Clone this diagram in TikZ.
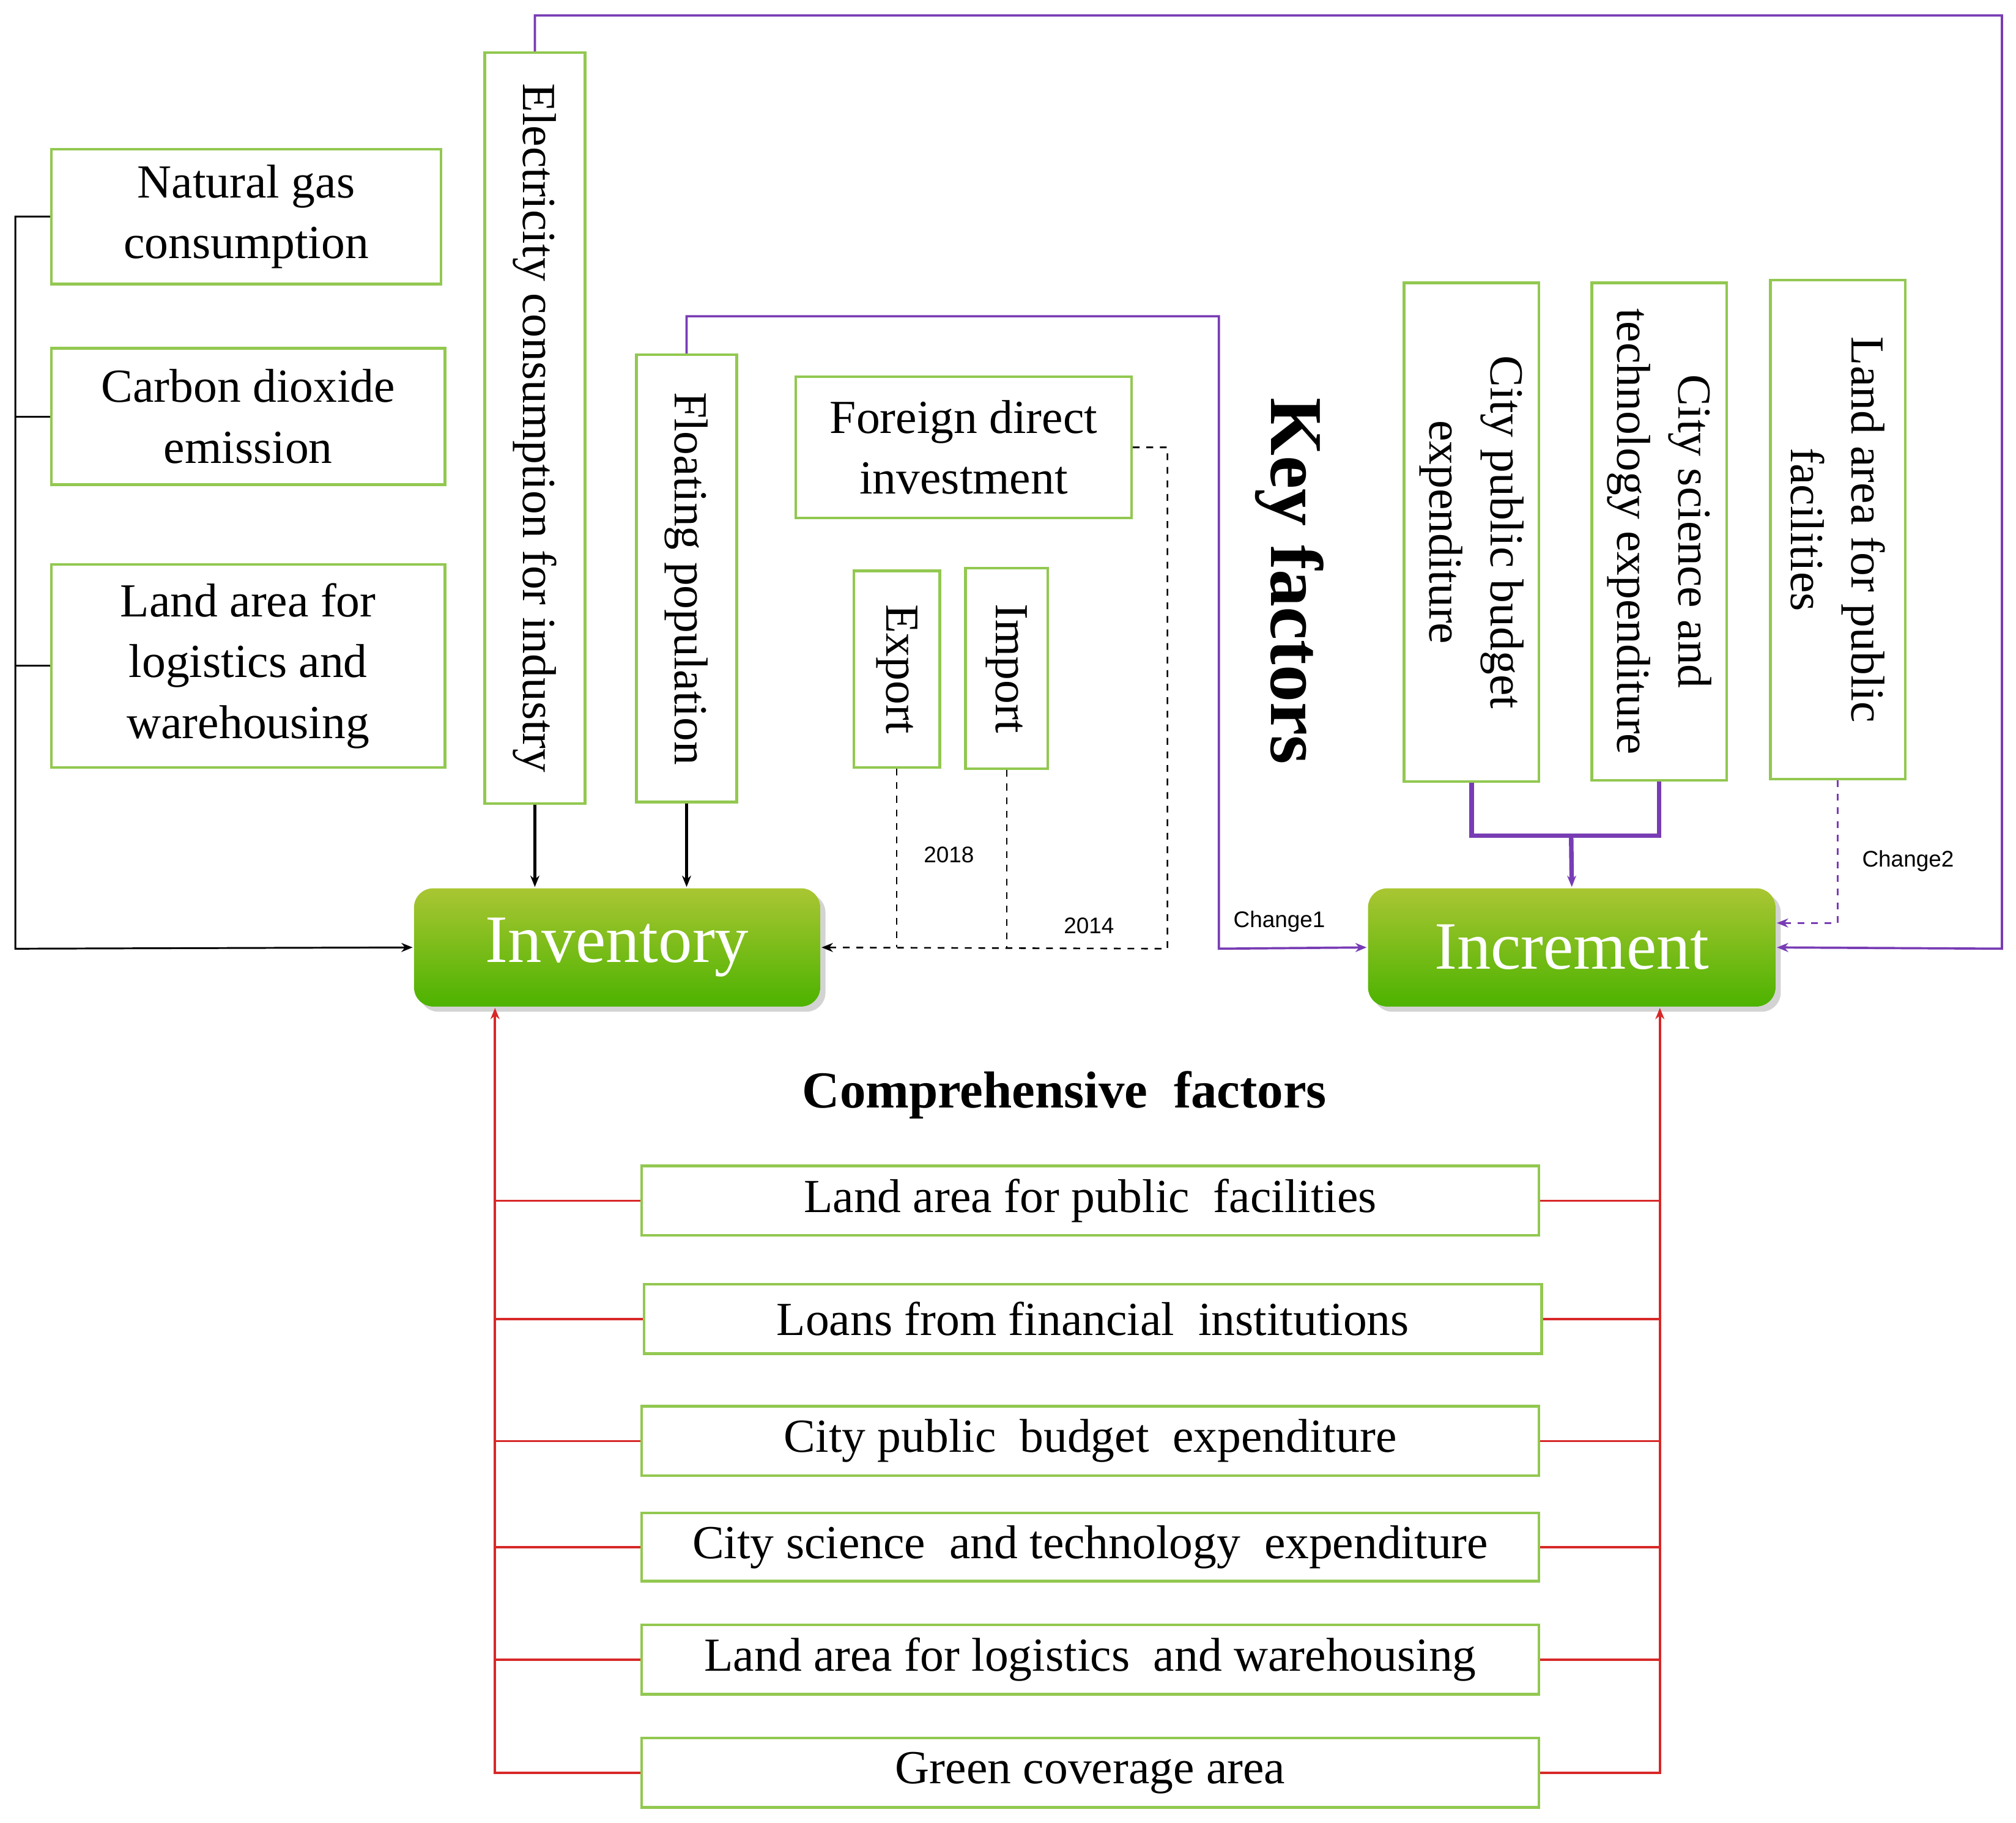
\documentclass[tikz,border=0pt]{standalone}
\usepackage{fontspec}
\setmainfont{Liberation Serif}
\newfontfamily\sansf{Liberation Sans}
\usetikzlibrary{shadows,arrows.meta}
\definecolor{gbox}{RGB}{146,200,80}
\definecolor{pur}{RGB}{120,60,180}
\definecolor{redl}{RGB}{215,40,40}
\tikzset{
 box/.style={draw=gbox,line width=1.2pt,fill=white,align=center,inner sep=2pt,font=\fontsize{21}{27}\selectfont},
 big/.style={rounded corners=0.3cm,top color=green!20!olive!70!yellow!80,bottom color=green!40!olive,text=white,font=\fontsize{30}{34}\selectfont,drop shadow={opacity=0.35}},
 arr/.style={-{Stealth[length=5pt,width=4pt]}},
 lab/.style={font=\sansf\fontsize{10}{12}\selectfont}
}
\newcommand\bx[7]{\node[box,#6,minimum width={(#4-#2)*0.02cm},minimum height={(#5-#3)*0.02cm}] (#1) at ({(#2+#4)/2},{(#3+#5)/2}) {#7};}
\newcommand\vbx[7]{\node[box,rotate=-90,#6,minimum height={(#4-#2)*0.02cm},minimum width={(#5-#3)*0.02cm}] (#1) at ({(#2+#4)/2},{(#3+#5)/2}) {#7};}
\begin{document}
\begin{tikzpicture}[x=0.02cm,y=-0.02cm]
\useasboundingbox (0,0) rectangle (1568,1418);
\bx{ng}{40}{116}{343}{221}{}{Natural gas\\consumption}
\bx{co}{40}{271}{346}{377}{}{Carbon dioxide\\emission}
\bx{lw}{40}{439}{346}{597}{}{Land area for\\logistics and\\warehousing}
\vbx{el}{377}{41}{455}{625}{}{Electricity consumption for industry}
\vbx{fl}{495}{276}{573}{624}{}{Floating population}
\bx{fdi}{619}{293}{880}{403}{}{Foreign direct\\investment}
\vbx{ex}{664}{444}{731}{597}{}{Export}
\vbx{im}{751}{442}{815}{598}{}{Import}
\node[rotate=-90,font=\bfseries\fontsize{33}{36}\selectfont] (kf) at (1003,452) {Key factors};
\vbx{bud}{1092}{220}{1197}{608}{}{City public budget\\expenditure}
\vbx{sci}{1238}{220}{1343}{607}{}{City science and\\technology expenditure}
\vbx{lap}{1377}{218}{1482}{606}{}{Land area for public\\facilities}
\bx{inv}{322}{691}{638}{783}{big,draw=none}{Inventory}
\bx{inc}{1064}{691}{1381}{783}{big,draw=none}{Increment}
\node[font=\bfseries\fontsize{23}{26}\selectfont] (cf) at (828,852) {Comprehensive\ \ factors};
\bx{g1}{499}{907}{1197}{961}{}{Land area for public\ \ facilities}
\bx{g2}{501}{999}{1199}{1053}{}{Loans from financial\ \ institutions}
\bx{g3}{499}{1094}{1197}{1148}{}{City public\ \ budget\ \ expenditure}
\bx{g4}{499}{1177}{1197}{1230}{}{City science\ \ and technology\ \ expenditure}
\bx{g5}{499}{1264}{1197}{1318}{}{Land area for logistics\ \ and warehousing}
\bx{g6}{499}{1352}{1197}{1406}{}{Green coverage area}
% left black
\coordinate (L) at (12,738);
\draw[arr,line width=0.8pt] (ng.west) -| (L) -- (inv.west);
\draw[line width=0.8pt] (co.west) -- (co.west -| L);
\draw[line width=0.8pt] (lw.west) -- (lw.west -| L);
\draw[arr,line width=1.3pt] (el.east) -- (el.east |- inv.north);
\draw[arr,line width=1.3pt] (fl.east) -- (fl.east |- inv.north);
% dashed
\draw[arr,dashed,line width=0.7pt] (fdi.east) -| (908,738) -- (inv.east);
\draw[dashed,line width=0.7pt] (ex.east) -- (ex.east |- inv.east);
\draw[dashed,line width=0.7pt] (im.east) -- (im.east |- inv.east);
\node[lab] (t18) at (738,665) {2018};
\node[lab] (t14) at (847,720) {2014};
% purple
\draw[arr,pur,line width=1pt] (el.west) |- (1557,12) -- (1557,738) -- (inc.east);
\draw[arr,pur,line width=1pt] (fl.west) |- (948,246) -- (948,738) -- (inc.west);
\node[lab] (c1) at (995,717) {Change1};
\coordinate (J) at (1222,650);
\draw[pur,line width=2pt] (bud.east) |- (J) -| (sci.east);
\draw[arr,pur,line width=2pt] (J) -- (inc.north);
\coordinate (c2p) at (1382,718);
\draw[arr,pur,dashed,line width=0.8pt] (lap.east) |- (c2p);
\node[lab] (c2) at (1484,670) {Change2};
% red
\coordinate (RL) at (385,1379);
\coordinate (RR) at (1291,1379);
\draw[arr,redl,line width=1pt] (g6.west) -- (g6.west -| RL) -- (RL |- inv.south);
\draw[arr,redl,line width=1pt] (g6.east) -- (g6.east -| RR) -- (RR |- inc.south);
\foreach \g in {g1,g2,g3,g4,g5}{
 \draw[redl,line width=1pt] (\g.west) -- (\g.west -| RL);
 \draw[redl,line width=1pt] (\g.east) -- (\g.east -| RR);
}
\end{tikzpicture}
\end{document}
